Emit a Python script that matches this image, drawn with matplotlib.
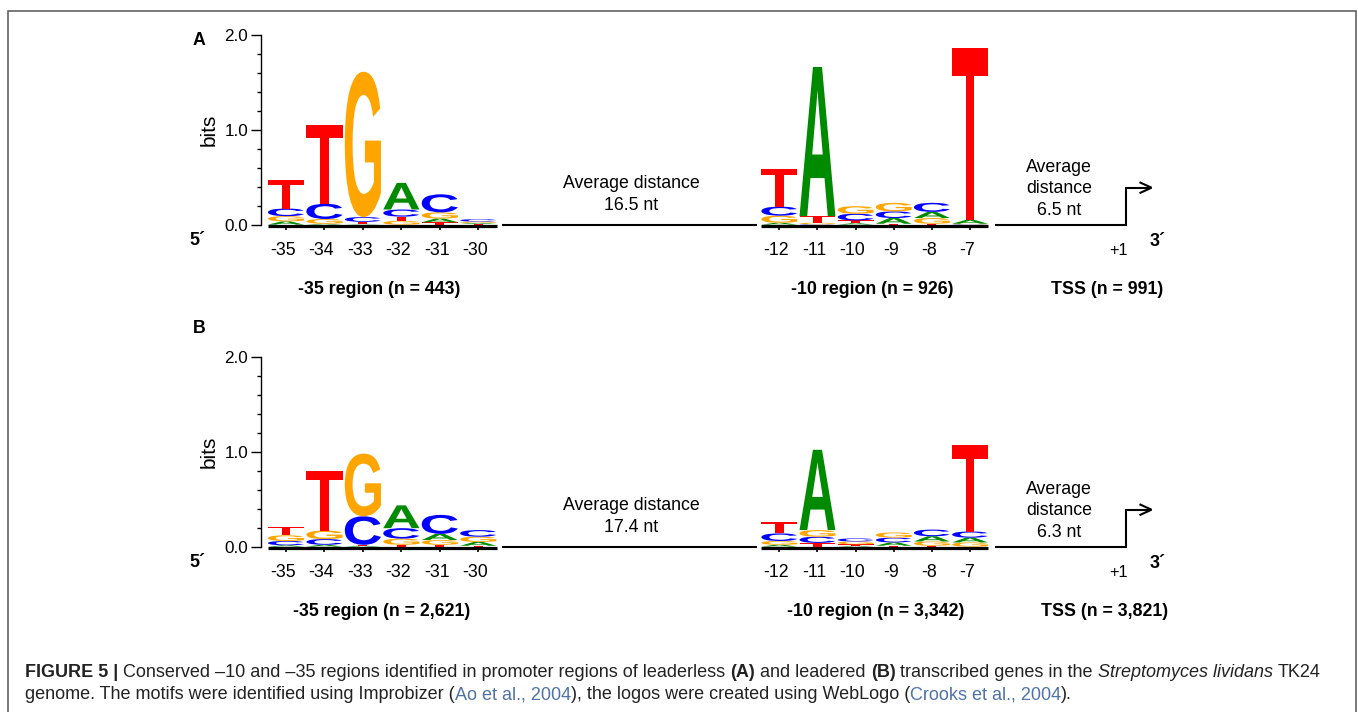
import matplotlib
matplotlib.use('Agg')
import matplotlib.pyplot as plt
from matplotlib.textpath import TextPath
from matplotlib.font_manager import FontProperties
from matplotlib.patches import PathPatch
from matplotlib.lines import Line2D
from matplotlib.transforms import Affine2D, blended_transform_factory
from matplotlib.ticker import MultipleLocator

plt.rcParams['font.family'] = ['Liberation Sans', 'DejaVu Sans']

W, H, DPI = 1358, 712, 100

# ---------------- data ----------------
letters = ['A', 'C', 'G', 'T']
pos35 = [-35, -34, -33, -32, -31, -30]
pos10 = [-12, -11, -10, -9, -8, -7]
pos35_labels = ['-35', '-34', '-33', '-32', '-31', '-30']
pos10_labels = ['-12', '-11', '-10', '-9', '-8', '-7']
ytick_vals = [0.0, 1.0, 2.0]
ytick_labels = ['0.0', '1.0', '2.0']

# Panel A (leaderless), information (bits) per base
A35_A = [0.035, 0.010, 0.005, 0.280, 0.040, 0.010]
A35_C = [0.080, 0.160, 0.050, 0.075, 0.190, 0.025]
A35_G = [0.055, 0.050, 1.530, 0.040, 0.065, 0.015]
A35_T = [0.300, 0.830, 0.025, 0.045, 0.025, 0.008]

A10_A = [0.020, 1.570, 0.015, 0.060, 0.065, 0.040]
A10_C = [0.095, 0.005, 0.070, 0.070, 0.095, 0.005]
A10_G = [0.075, 0.015, 0.080, 0.090, 0.060, 0.005]
A10_T = [0.400, 0.070, 0.030, 0.010, 0.010, 1.810]

# Panel B (leadered)
B35_A = [0.015, 0.020, 0.010, 0.240, 0.065, 0.040]
B35_C = [0.045, 0.060, 0.300, 0.110, 0.200, 0.070]
B35_G = [0.060, 0.090, 0.660, 0.065, 0.050, 0.055]
B35_T = [0.090, 0.630, 0.010, 0.020, 0.020, 0.010]

B10_A = [0.020, 0.845, 0.010, 0.035, 0.055, 0.050]
B10_C = [0.080, 0.065, 0.032, 0.050, 0.070, 0.065]
B10_G = [0.040, 0.070, 0.030, 0.055, 0.045, 0.045]
B10_T = [0.115, 0.040, 0.015, 0.010, 0.010, 0.910]

panels = [
    dict(tag='A', n35='443', n10='926', ntss='991', d1='16.5 nt', d2='6.5 nt',
         m35={'A': A35_A, 'C': A35_C, 'G': A35_G, 'T': A35_T},
         m10={'A': A10_A, 'C': A10_C, 'G': A10_G, 'T': A10_T}),
    dict(tag='B', n35='2,621', n10='3,342', ntss='3,821', d1='17.4 nt', d2='6.3 nt',
         m35={'A': B35_A, 'C': B35_C, 'G': B35_G, 'T': B35_T},
         m10={'A': B10_A, 'C': B10_C, 'G': B10_G, 'T': B10_T}),
]

COLORS = {'A': '#008a00', 'C': '#0000ff', 'G': '#ffa500', 'T': '#ff0000'}

# ---------------- figure ----------------
fig = plt.figure(figsize=(W / DPI, H / DPI), dpi=DPI)
figpx = Affine2D().scale(1.0 / W, -1.0 / H).translate(0, 1) + fig.transFigure

FP_LOGO = FontProperties(family='Liberation Sans', weight='bold')
GLYPHS = {L: TextPath((0, 0), L, size=1, prop=FP_LOGO) for L in letters}


def draw_letter(ax, L, xc, y0, h, width=0.94):
    p = GLYPHS[L]
    ext = p.get_extents()
    tr = (Affine2D().translate(-ext.x0, -ext.y0)
          .scale(width / ext.width, h / ext.height)
          .translate(xc - width / 2.0, y0))
    ax.add_patch(PathPatch(tr.transform_path(p), facecolor=COLORS[L],
                           edgecolor='none', lw=0, zorder=2))


def draw_stack(ax, positions, mat):
    for i, x in enumerate(positions):
        col = sorted(((mat[L][i], L) for L in letters), key=lambda t: t[0])
        y = 0.0
        for h, L in col:
            if h > 0:
                draw_letter(ax, L, x, y, h)
            y += h


def logo_axes(x0, x1, first_pos, first_px, step, ybase, ytop):
    ax = fig.add_axes([x0 / W, 1 - ybase / H, (x1 - x0) / W, (ybase - ytop) / H])
    ax.set_xlim(first_pos - (first_px - x0) / step, first_pos + (x1 - first_px) / step)
    ax.set_ylim(0, 2)
    ax.patch.set_visible(False)
    for s in ax.spines.values():
        s.set_visible(False)
    return ax


def fig_line(xs, ys, lw=1.5, color='black'):
    fig.add_artist(Line2D(xs, ys, transform=figpx, color=color, lw=lw,
                          solid_capstyle='butt', solid_joinstyle='miter'))


def ftext(x, y, s, **kw):
    kw.setdefault('ha', 'center')
    kw.setdefault('va', 'baseline')
    kw.setdefault('color', 'black')
    fig.text(x, y, s, transform=figpx, **kw)


FS = 12.8
for k, P in enumerate(panels):
    dy = 322.0 * k
    ybase = 224.7 + dy
    ytop = ybase - 190.0

    # -35 logo
    ax35 = logo_axes(260.7, 500.0, pos35[0], 286.0, 38.45, ybase, ytop)
    draw_stack(ax35, pos35, P['m35'])
    ax35.spines['left'].set_visible(True)
    ax35.spines['left'].set_linewidth(1.0)
    ax35.set_yticks(ytick_vals)
    ax35.set_yticklabels(ytick_labels)
    ax35.yaxis.set_minor_locator(MultipleLocator(0.2))
    ax35.tick_params(axis='y', which='major', length=7.5, width=1.0, pad=1.5, labelsize=12.3)
    ax35.tick_params(axis='y', which='minor', length=3.0, width=1.0)

    # -10 logo
    ax10 = logo_axes(755.0, 995.0, pos10[0], 779.3, 38.15, ybase, ytop)
    draw_stack(ax10, pos10, P['m10'])
    ax10.set_yticks([])

    for ax, positions, labs in ((ax35, pos35, pos35_labels), (ax10, pos10, pos10_labels)):
        ax.set_xticks(positions)
        ax.tick_params(axis='x', direction='out', length=3.5, width=1.2, labelbottom=False)
        ax.plot([positions[0] - 0.48, positions[-1] + 0.48], [0, 0], color='black', lw=2.3,
                solid_capstyle='butt', clip_on=False, zorder=3,
                transform=ax.transData + Affine2D().translate(0, -1.0))
        btr = blended_transform_factory(ax.transData, figpx) + Affine2D().translate(-3, 0)
        for p_, lab in zip(positions, labs):
            ax.text(p_, 255.0 + dy, lab, transform=btr, ha='center', va='baseline', fontsize=FS)

    # connecting lines
    fig_line([501.7, 756.7], [ybase + 0.5, ybase + 0.5], lw=1.5)
    fig_line([995.0, 1125.7, 1125.7, 1150.0], [ybase + 0.5, ybase + 0.5, 187.7 + dy, 187.7 + dy], lw=1.5)
    fig_line([1139.5, 1151.5, 1139.5], [182.2 + dy, 187.7 + dy, 193.2 + dy], lw=1.5)

    # texts
    ftext(199, 45 + (288 if k else 0), P['tag'], fontsize=FS, fontweight='bold')
    ftext(209, 130 + dy, 'bits', fontsize=15, rotation=90, va='center')
    ftext(197, 245 + dy, '5´', fontsize=13, fontweight='bold')
    ftext(1158, 246 + dy, '3´', fontsize=13, fontweight='bold')
    ftext(1118, 255 + dy, '+1', fontsize=11.8)
    ftext(379 + 3 * k, 294.3 + dy, '-35 region (n = %s)' % P['n35'], fontsize=FS, fontweight='bold')
    ftext(872 + 4 * k, 294.3 + dy, '-10 region (n = %s)' % P['n10'], fontsize=FS, fontweight='bold')
    ftext(1107 - 2 * k, 294.3 + dy, 'TSS (n = %s)' % P['ntss'], fontsize=FS, fontweight='bold')
    ftext(631, 188.3 + dy, 'Average distance', fontsize=FS)
    ftext(631, 210.0 + dy, P['d1'], fontsize=FS)
    ftext(1059, 171.7 + dy, 'Average', fontsize=FS)
    ftext(1059, 193.3 + dy, 'distance', fontsize=FS)
    ftext(1059, 215.0 + dy, P['d2'], fontsize=FS)

# frame
fig.add_artist(Line2D([8, 8, 1355.7, 1355.7], [730, 10.5, 10.5, 730], transform=figpx,
                      color='#555555', lw=1.1, solid_joinstyle='miter'))

# ---------------- caption ----------------
DARK = '#222222'
CITE = '#4f72a8'
cap1 = [("FIGURE 5 |", 'bold', 'normal', DARK),
        (" Conserved \u201310 and \u201335 regions identified in promoter regions of leaderless ", 'normal', 'normal', DARK),
        ("(A)", 'bold', 'normal', DARK),
        (" and leadered ", 'normal', 'normal', DARK),
        ("(B)", 'bold', 'normal', DARK),
        (" transcribed genes in the ", 'normal', 'normal', DARK),
        ("Streptomyces lividans", 'normal', 'italic', DARK),
        (" TK24", 'normal', 'normal', DARK)]
cap2 = [("genome. The motifs were identified using Improbizer (", 'normal', 'normal', DARK),
        ("Ao et al., 2004", 'normal', 'normal', CITE),
        ("), the logos were created using WebLogo (", 'normal', 'normal', DARK),
        ("Crooks et al., 2004", 'normal', 'normal', CITE),
        (").", 'normal', 'normal', DARK)]

renderer = fig.canvas.get_renderer()


def fprop(weight, style, size):
    return FontProperties(family='Liberation Sans', weight=weight, style=style, size=size)


def str_width(s, fp):
    w1, _, _ = renderer.get_text_width_height_descent('|' + s + '|', fp, ismath=False)
    w2, _, _ = renderer.get_text_width_height_descent('||', fp, ismath=False)
    return w1 - w2


base = 10.0
tot = sum(str_width(s, fprop(w, st, base)) for s, w, st, c in cap1)
cap_size = base * (1320.0 - 25.0) / tot


def draw_caption(pieces, y):
    x = 25.0
    for s, w, st, c in pieces:
        fp = fprop(w, st, cap_size)
        lead = len(s) - len(s.lstrip(' '))
        xs = x + (str_width(' ' * lead, fp) if lead else 0.0)
        fig.text(xs, y, s.strip(' '), transform=figpx, ha='left', va='baseline',
                 fontproperties=fp, color=c)
        x += str_width(s, fp)


draw_caption(cap1, 676.7)
draw_caption(cap2, 699.0)

fig.savefig('out.png', dpi=DPI)
